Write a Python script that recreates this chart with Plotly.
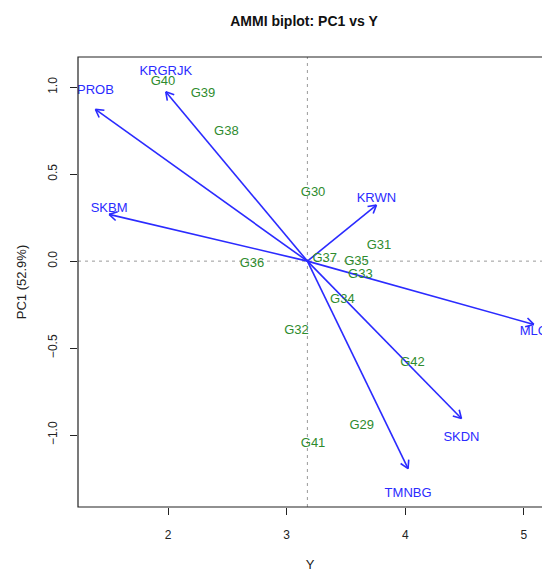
import math
import plotly.graph_objects as go

# ---- data ----
gen_names = ["G29", "G30", "G31", "G32", "G33", "G34", "G35",
             "G36", "G37", "G38", "G39", "G40", "G41", "G42"]
gen_yield = [3.633, 3.223, 3.779, 3.083, 3.622, 3.470, 3.589,
             2.708, 3.321, 2.492, 2.295, 1.958, 3.223, 4.061]
gen_pc1 = [-0.944, 0.395, 0.086, -0.401, -0.077, -0.220, -0.004,
           -0.017, 0.016, 0.744, 0.961, 1.032, -1.053, -0.585]

env_names = ["KRGRJK", "PROB", "SKBM", "KRWN", "MLG", "SKDN", "TMNBG"]
env_yield = [1.981, 1.388, 1.503, 3.757, 5.084, 4.474, 4.024]
env_pc1 = [0.974, 0.873, 0.269, 0.322, -0.364, -0.905, -1.193]

grand_mean = 3.175
label_expand = 1.12

x_ticks = [2, 3, 4, 5]
y_ticks = [-1.0, -0.5, 0.0, 0.5, 1.0]

# ---- layout geometry ----
W, H = 542, 572
ML, MR, MT, MB = 78, 0, 57, 65
X_RANGE = [1.241, 5.153]
Y_RANGE = [-1.414, 1.174]
sx = (W - ML - MR) / (X_RANGE[1] - X_RANGE[0])   # px per x unit
sy = (H - MT - MB) / (Y_RANGE[1] - Y_RANGE[0])   # px per y unit

BLUE = "#2b2bff"
GREEN = "#2e8b2e"
FONT = "Liberation Sans, Arial, sans-serif"

# arrow shafts and heads (heads built in pixel space, like R's arrows())
head_len = 9.0
head_ang = math.radians(30)
ax_x, ax_y = [], []
for ex, ey in zip(env_yield, env_pc1):
    ax_x += [grand_mean, ex, None]
    ax_y += [0.0, ey, None]
    dxp = (ex - grand_mean) * sx
    dyp = ey * sy
    theta = math.atan2(dyp, dxp)
    for s in (1, -1):
        a = theta + math.pi + s * head_ang
        hx = ex + head_len * math.cos(a) / sx
        hy = ey + head_len * math.sin(a) / sy
        ax_x += [hx, ex, None]
        ax_y += [hy, ey, None]

fig = go.Figure()

fig.add_trace(go.Scatter(
    x=ax_x, y=ax_y, mode="lines", line=dict(color=BLUE, width=1.6),
    hoverinfo="skip", showlegend=False, cliponaxis=False))

# environment labels
fig.add_trace(go.Scatter(
    x=env_yield, y=[v * label_expand for v in env_pc1], text=env_names,
    mode="text", textfont=dict(color=BLUE, size=13, family=FONT),
    cliponaxis=False, hoverinfo="skip", showlegend=False))

# genotype labels
fig.add_trace(go.Scatter(
    x=gen_yield, y=gen_pc1, text=gen_names,
    mode="text", textfont=dict(color=GREEN, size=13, family=FONT),
    cliponaxis=False, hoverinfo="skip", showlegend=False))

# dashed reference lines
fig.add_shape(type="line", xref="paper", yref="y", x0=0, x1=1, y0=0, y1=0,
              line=dict(color="#999999", width=1, dash="3px,4px"), layer="below")
fig.add_shape(type="line", xref="x", yref="paper", x0=grand_mean, x1=grand_mean,
              y0=0, y1=1, line=dict(color="#999999", width=1, dash="3px,4px"),
              layer="below")

# frame (right edge runs off the canvas as in the reference)
fig.add_shape(type="rect", xref="paper", yref="paper", x0=0, x1=1.05, y0=0, y1=1,
              line=dict(color="#222222", width=1.2), layer="above")

fig.update_layout(
    width=W, height=H,
    margin=dict(l=ML, r=MR, t=MT, b=MB, autoexpand=False),
    paper_bgcolor="white", plot_bgcolor="white",
    font=dict(family=FONT, size=12, color="#222222"),
    showlegend=False,
    title=dict(text="<b>AMMI biplot: PC1 vs Y</b>", x=304 / W, xref="container",
               xanchor="center", y=1 - 21 / H, yanchor="middle",
               font=dict(size=14, color="#111111", family=FONT)),
)

fig.update_xaxes(
    range=X_RANGE, tickvals=x_ticks, ticktext=[str(v) for v in x_ticks],
    ticks="outside", ticklen=7, tickcolor="#222222", tickwidth=1,
    ticklabelstandoff=10, showgrid=False, zeroline=False, showline=False,
    automargin=False,
    title=dict(text="Y", standoff=19, font=dict(size=13)),
)
fig.update_yaxes(
    range=Y_RANGE, tickvals=y_ticks, tickformat=".1f",
    ticks="outside", ticklen=7, tickcolor="#222222", tickwidth=1,
    tickangle=-90, ticklabelstandoff=8, automargin=False,
    showgrid=False, zeroline=False, showline=False,
    title=dict(text="PC1 (52.9%)", standoff=16, font=dict(size=13)),
)

fig.write_html(
    "out.html",
    config={"displayModeBar": False},
    post_script="document.body.style.margin='0';document.body.style.overflow='hidden';",
)
